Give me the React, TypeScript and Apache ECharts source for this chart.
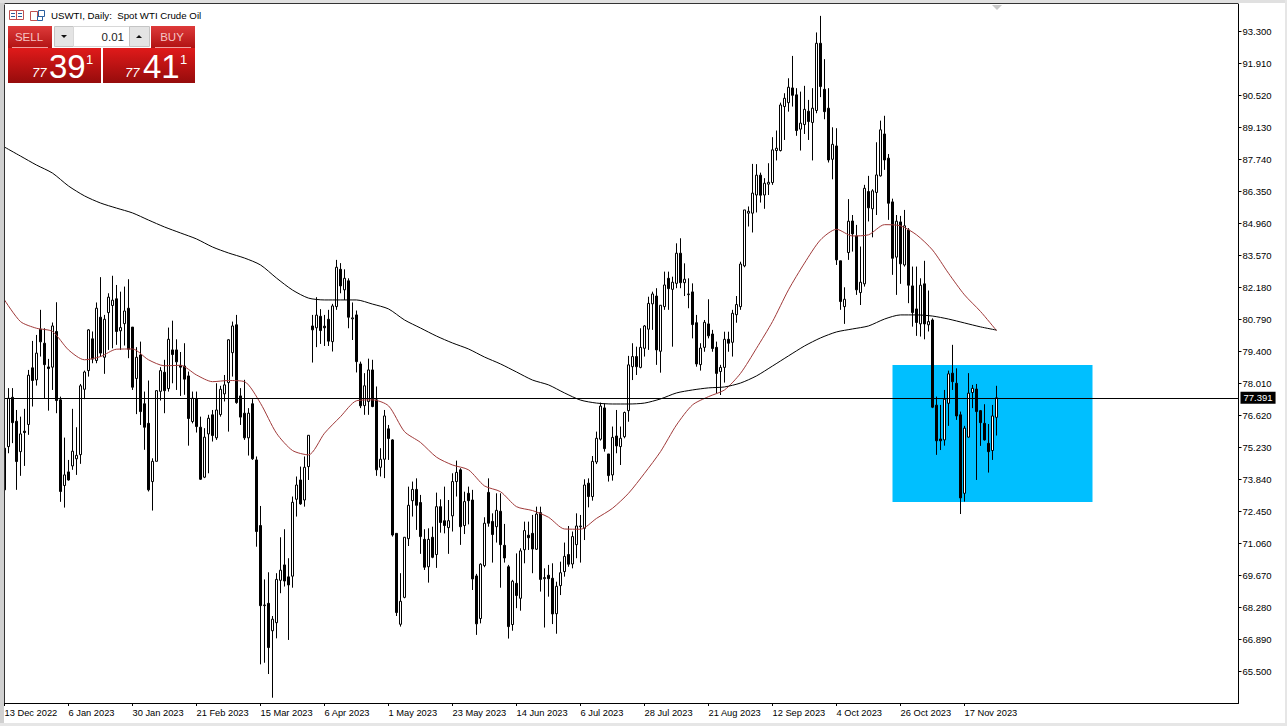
import React, { useEffect, useRef } from "react";
import * as echarts from "echarts";

const tickLabels = ["13 Dec 2022","6 Jan 2023","30 Jan 2023","21 Feb 2023","15 Mar 2023","6 Apr 2023","1 May 2023","23 May 2023","14 Jun 2023","6 Jul 2023","28 Jul 2023","21 Aug 2023","12 Sep 2023","4 Oct 2023","26 Oct 2023","17 Nov 2023"];
const priceTicks = [65.5,66.89,68.28,69.67,71.06,72.45,73.84,75.23,76.62,78.01,79.4,80.79,82.18,83.57,84.96,86.35,87.74,89.13,90.52,91.91,93.3];
const lastPrice = 77.391;
const zoneTop = 78.81;
const zoneBottom = 72.86;
const zoneStartBar = 222;
const zoneEndBar = 272;
const totalSlots = 309;

const opens = [
75.20,75.27,77.41,76.37,75.05,75.94,76.23,78.69,78.17,80.37,
79.76,78.73,78.72,80.27,77.30,73.58,74.17,74.43,74.74,74.92,
77.76,78.57,79.95,79.01,80.89,79.15,81.09,81.40,81.69,80.30,
80.61,81.28,80.46,78.23,79.25,77.13,76.28,73.75,74.63,77.67,
78.50,77.79,79.47,79.47,78.80,78.77,78.34,76.36,77.34,76.11,
73.94,75.82,76.65,75.65,76.66,77.56,78.05,79.35,80.56,77.47,
76.72,75.65,77.13,74.69,71.84,68.36,68.46,67.27,67.62,69.46,
70.13,69.61,69.64,72.98,73.82,72.95,74.40,80.51,80.43,80.93,
80.50,80.80,79.83,81.35,82.97,82.08,82.47,80.82,80.99,78.86,
77.05,77.23,78.60,77.30,74.37,74.72,76.04,75.56,71.50,67.55,
68.72,71.27,72.92,73.41,72.84,71.24,70.05,71.33,70.58,72.66,
72.05,71.75,72.26,73.75,74.26,71.84,73.24,72.95,69.65,67.80,
70.10,73.28,72.02,71.79,72.46,70.98,70.05,67.54,69.33,68.68,
70.79,71.42,71.50,70.81,72.40,69.53,69.68,69.55,68.01,69.23,
69.84,70.58,70.17,71.01,71.79,71.72,73.68,73.10,74.60,75.59,
76.95,74.95,74.04,75.73,75.27,75.70,76.83,78.74,79.18,78.71,
79.54,80.37,81.47,81.81,79.41,81.35,82.58,82.10,82.36,83.67,
82.39,81.87,81.99,80.65,78.83,79.58,80.60,80.16,79.58,78.53,
78.71,79.93,79.80,81.00,81.35,83.12,85.41,85.41,86.20,87.06,
86.20,86.67,86.74,88.13,88.13,90.04,90.21,90.85,90.55,89.06,
89.26,89.84,89.35,89.87,92.79,90.79,89.97,87.75,88.33,83.34,
81.35,83.70,85.07,84.42,81.96,82.34,86.35,85.60,86.31,87.03,
88.85,87.80,85.90,83.50,85.03,83.16,84.68,82.25,81.25,80.60,
82.34,80.56,80.77,77.07,75.60,75.56,77.15,78.46,78.02,76.65,
73.24,75.68,77.62,77.77,76.83,76.28,75.41,75.10,76.54];
const closes = [
73.39,77.37,76.31,74.62,75.82,75.88,78.37,78.14,79.33,79.82,
78.83,78.66,80.51,77.27,73.32,74.04,73.82,75.07,74.89,77.91,
78.51,80.34,79.07,81.28,79.33,80.80,81.76,81.63,80.27,80.44,
81.16,79.50,77.85,79.15,76.79,76.11,73.39,74.63,77.70,78.57,
77.70,79.93,79.27,78.95,78.72,78.20,76.49,77.37,76.14,73.85,
75.68,76.50,75.75,76.86,77.76,77.95,79.91,80.51,77.18,76.55,
75.65,76.72,74.74,71.58,68.36,68.39,66.54,67.77,69.50,69.90,
69.43,69.26,72.85,73.60,72.78,74.37,75.76,80.34,80.98,80.31,
80.43,79.85,81.38,83.06,82.25,82.58,80.89,80.86,78.96,77.04,
77.91,78.60,77.01,74.26,74.72,76.60,75.62,71.43,68.06,68.55,
71.33,72.72,73.41,72.72,71.36,70.03,71.24,70.46,72.66,71.97,
71.84,72.05,73.75,74.15,71.79,72.88,72.92,69.52,67.57,70.16,
71.94,71.94,71.45,72.50,71.01,70.43,67.45,69.42,68.80,70.74,
71.62,71.31,70.82,72.34,69.50,69.58,69.53,68.00,69.20,69.79,
70.50,70.16,71.36,71.82,71.82,73.60,73.10,74.63,75.63,77.03,
75.18,74.01,75.67,75.30,75.63,76.75,78.82,79.18,78.74,79.58,
80.51,81.49,81.90,79.47,81.41,82.29,82.13,82.41,83.67,82.39,
82.54,81.90,80.57,78.86,79.55,80.67,80.08,79.53,78.45,78.71,
79.93,79.76,81.06,81.44,83.20,85.55,85.49,86.28,87.06,86.19,
86.71,86.75,88.16,88.23,90.11,90.40,90.88,90.53,89.00,89.32,
89.92,89.39,89.97,92.79,90.91,89.82,87.72,88.40,83.38,81.57,
81.67,85.06,84.51,82.08,82.41,86.49,85.64,86.38,87.07,89.03,
87.72,85.84,83.45,85.06,83.21,84.86,82.28,81.09,80.66,82.28,
80.60,80.70,76.98,75.52,75.52,77.33,78.43,78.09,76.60,73.04,
76.07,77.59,77.80,76.79,76.31,75.56,75.05,76.60,77.39];
const lows = [
73.30,74.98,75.42,73.39,74.00,74.43,75.78,77.01,77.92,79.18,
77.37,76.83,77.73,76.72,72.87,72.62,73.79,74.26,74.04,74.52,
77.33,78.31,78.89,78.89,79.18,78.43,79.47,79.54,79.69,79.47,
79.66,79.11,77.73,76.68,76.21,75.13,73.32,72.49,74.63,77.27,
76.72,77.66,78.02,77.73,77.47,77.52,75.31,76.28,75.88,73.82,
73.90,74.11,75.49,75.56,76.57,77.23,75.92,78.31,77.13,76.21,
75.56,74.88,74.69,70.92,65.81,65.88,65.39,64.36,66.94,68.90,
69.19,66.87,69.14,72.23,72.74,72.66,73.82,78.92,79.59,79.73,
79.64,79.64,79.40,81.21,81.93,81.64,80.41,79.90,78.49,76.94,
76.65,76.65,76.98,74.00,73.97,73.90,74.69,71.36,67.91,67.45,
68.68,70.95,72.23,71.65,70.61,69.91,69.36,70.42,70.00,71.53,
71.50,70.61,71.58,73.10,71.00,71.47,71.89,69.04,67.09,67.59,
70.03,71.79,70.23,71.10,69.14,70.23,66.93,67.27,68.25,68.14,
70.20,70.78,69.77,70.78,68.97,67.41,68.75,67.56,67.14,68.82,
69.62,70.05,69.98,70.42,70.23,71.21,72.63,72.92,74.51,75.53,
75.05,73.75,73.79,74.98,74.47,75.63,76.35,78.16,78.38,78.67,
79.18,79.47,80.34,78.82,78.48,81.21,81.21,79.61,82.15,82.15,
81.81,81.28,79.97,78.74,78.57,79.39,79.97,79.39,77.58,77.51,
78.05,79.39,79.18,80.65,81.21,83.06,84.83,84.57,85.44,85.87,
85.60,86.20,86.64,87.70,88.09,88.59,89.82,90.04,88.77,88.13,
88.85,88.59,87.70,89.75,90.45,89.49,87.61,86.88,83.16,81.21,
80.60,83.38,83.74,81.86,81.42,82.22,85.05,84.36,85.33,87.00,
87.29,85.12,82.73,81.86,82.34,83.09,81.50,80.48,80.08,80.05,
79.93,80.27,76.94,74.91,75.12,75.31,76.17,77.73,76.43,72.34,
72.88,75.66,76.94,73.82,75.30,75.53,74.14,74.69,75.75];
const highs = [
75.40,77.81,77.81,76.86,76.57,76.91,78.60,79.86,80.12,81.21,
80.41,79.08,80.66,81.54,77.44,75.66,74.69,76.91,76.11,77.99,
78.57,80.37,80.27,81.53,82.63,80.99,81.93,82.69,82.29,82.00,
82.22,82.54,80.46,79.59,79.83,77.66,78.14,74.76,77.70,78.72,
79.04,80.44,80.74,79.93,79.38,79.76,78.53,77.66,77.66,76.57,
76.07,76.65,76.86,78.02,77.91,78.38,79.93,80.70,80.99,77.81,
78.17,76.94,77.33,74.84,72.69,69.50,69.81,67.91,69.77,71.33,
71.68,70.42,73.10,73.97,74.40,74.84,75.76,80.99,81.76,81.24,
80.99,81.21,81.47,83.38,83.24,82.97,82.58,81.53,81.18,78.96,
78.46,79.09,79.04,77.88,75.20,76.86,76.21,75.59,71.50,69.77,
71.33,73.53,73.75,73.89,73.17,71.68,71.72,71.79,73.27,72.98,
73.53,72.95,74.11,74.66,74.33,73.31,73.53,73.39,69.74,70.20,
72.20,73.89,72.37,73.24,73.24,71.91,70.13,69.48,70.63,70.85,
72.01,72.01,72.30,72.66,72.66,69.98,70.13,70.20,69.40,70.27,
71.10,71.82,71.58,72.37,72.30,73.85,73.89,74.86,75.92,77.18,
77.15,74.95,76.14,76.86,76.14,76.79,79.21,79.76,79.61,80.41,
80.55,81.78,82.00,82.15,81.42,82.87,82.87,82.65,84.10,84.32,
83.23,82.58,82.36,80.99,79.76,80.77,81.67,80.34,79.83,78.82,
80.26,80.26,81.21,81.81,83.30,85.55,85.70,87.55,87.54,87.17,
86.93,87.58,88.71,89.00,90.21,90.62,91.27,92.24,90.84,90.69,
90.94,90.33,90.84,93.26,93.98,92.10,90.84,89.14,89.10,83.34,
82.19,86.02,85.33,84.90,83.96,86.64,87.03,86.45,88.49,89.43,
89.64,87.98,86.04,85.33,85.29,85.55,84.76,83.09,83.09,82.58,
83.34,82.05,80.84,77.44,77.08,77.73,78.57,79.69,78.67,76.79,
76.17,78.46,77.95,77.99,76.86,77.11,76.25,77.08,77.91];

const maStep = 4;
const ma50 = [
81.64,80.70,80.41,80.27,79.47,79.04,79.18,79.50,79.51,79.04,
78.78,78.80,78.38,78.09,78.14,78.09,77.15,75.85,75.10,74.91,
75.85,76.57,77.26,77.30,77.04,75.92,75.45,74.81,74.47,74.26,
73.56,73.31,72.66,72.49,72.20,71.69,71.68,72.15,72.59,73.24,
74.11,75.05,76.21,77.08,77.44,77.73,78.45,79.54,80.70,82.08,
83.24,84.25,84.71,84.42,84.47,84.91,84.86,84.47,83.81,82.80,
81.86,81.14,80.31];
const ma200 = [
88.28,87.89,87.50,87.15,86.59,86.16,85.85,85.63,85.42,85.11,
84.81,84.55,84.29,83.94,83.68,83.46,83.16,82.59,82.07,81.72,
81.64,81.64,81.64,81.46,81.25,80.77,80.42,80.07,79.77,79.51,
79.16,78.86,78.51,78.16,77.95,77.60,77.29,77.16,77.12,77.12,
77.16,77.34,77.60,77.73,77.82,77.86,78.03,78.34,78.77,79.21,
79.64,79.99,80.25,80.38,80.51,80.81,80.99,80.99,80.94,80.81,
80.64,80.47,80.33];

const FONT = "Liberation Sans";
const red = (a: string, b: string) => ({ type: "linear", x: 0, y: 0, x2: 0, y2: 1, colorStops: [{ offset: 0, color: a }, { offset: 1, color: b }] });
const txt = (x: number, y: number, text: string, size: number, fill: string, extra: any = {}) => ({
  type: "text", x, y, z: 60, silent: true,
  style: { text, fontSize: size, fill, fontFamily: FONT, textVerticalAlign: "middle", ...extra },
});
const box = (x: number, y: number, w: number, h: number, style: any, z = 50) => ({ type: "rect", z, silent: true, shape: { x, y, width: w, height: h }, style });

export default function App() {
  const ref = useRef<HTMLDivElement>(null);
  useEffect(() => {
    document.body.style.margin = "0";
    const chart = echarts.init(ref.current!, undefined, { renderer: "svg" });
    const categories = Array.from({ length: totalSlots }, (_, i) => (i % 16 === 0 ? tickLabels[i / 16] ?? "" : ""));
    const showDate = (i: number) => i % 16 === 0 && i / 16 < tickLabels.length;
    const candles = opens.map((o, i) => [o, closes[i], lows[i], highs[i]]);
    chart.setOption({
      animation: false,
      backgroundColor: "#ffffff",
      grid: { left: 2.5, top: 4, width: 1236, height: 699, show: false },
      xAxis: {
        type: "category", data: categories, boundaryGap: true,
        axisLine: { onZero: false, lineStyle: { color: "#000", width: 1 } },
        axisTick: { show: true, alignWithLabel: true, length: 3, interval: (i: number) => showDate(i), lineStyle: { color: "#000" } },
        axisLabel: { interval: (i: number) => showDate(i), align: "left", margin: 5, fontSize: 9.3, color: "#000", fontFamily: FONT, hideOverlap: false },
        splitLine: { show: false },
      },
      yAxis: {
        type: "value", position: "right", min: 64.131, max: 94.496, scale: true,
        axisLine: { show: true, lineStyle: { color: "#000", width: 1 } },
        axisTick: { show: true, length: 3, customValues: priceTicks, lineStyle: { color: "#000" } },
        axisLabel: { customValues: priceTicks, margin: 4, fontSize: 9.5, color: "#000", fontFamily: FONT, formatter: (v: number) => v.toFixed(3) },
        splitLine: { show: false },
      },
      series: [
        {
          name: "zone", type: "line", z: 1, data: [], silent: true,
          markArea: {
            silent: true,
            itemStyle: { color: "#00BFFF", opacity: 1 },
            data: [[{ xAxis: zoneStartBar, yAxis: zoneTop }, { xAxis: zoneEndBar, yAxis: zoneBottom }]],
          },
        },
        {
          name: "USWTI", type: "candlestick", z: 3, barWidth: 2, silent: true, data: candles,
          itemStyle: { color: "#ffffff", color0: "#000000", borderColor: "#000000", borderColor0: "#000000", borderWidth: 1 },
        },
        {
          name: "MA50", type: "line", z: 4, showSymbol: false, silent: true, smooth: 0.25,
          data: ma50.map((v, i) => [i * maStep, v]),
          lineStyle: { color: "#A03A3A", width: 1 },
        },
        {
          name: "MA200", type: "line", z: 4, showSymbol: false, silent: true, smooth: 0.25,
          data: ma200.map((v, i) => [i * maStep, v]),
          lineStyle: { color: "#000000", width: 1 },
          markLine: {
            silent: true, symbol: "none", animation: false,
            lineStyle: { color: "#000", width: 1, type: "solid" },
            label: { show: true, position: "end", formatter: lastPrice.toFixed(3), color: "#fff", backgroundColor: "#000", padding: [1, 3, 1, 3], fontSize: 9.5, fontFamily: FONT, distance: 2 },
            data: [{ yAxis: lastPrice }],
          },
        },
      ],
      graphic: { elements: [
        box(0, 0, 4, 726, { fill: "#d0d0d0" }),
        box(0, 0, 1287, 3, { fill: "#e0e0e0" }),
        box(0, 723, 1287, 3, { fill: "#e6e6e6" }),
        box(1285, 0, 2, 726, { fill: "#e6e6e6" }),
        { type: "line", z: 51, silent: true, shape: { x1: 4.5, y1: 4.5, x2: 4.5, y2: 703 }, style: { stroke: "#333", lineWidth: 1 } },
        { type: "line", z: 51, silent: true, shape: { x1: 4.5, y1: 3.5, x2: 1238, y2: 3.5 }, style: { stroke: "#333", lineWidth: 1 } },
        { type: "polygon", z: 51, silent: true, shape: { points: [[992, 5], [1002, 5], [997, 10]] }, style: { fill: "#c8c8c8" } },
        box(9.5, 10.5, 14, 9, { fill: "#fff", stroke: "#c05050", lineWidth: 1 }),
        { type: "line", z: 51, silent: true, shape: { x1: 16.5, y1: 11, x2: 16.5, y2: 19 }, style: { stroke: "#c05050" } },
        { type: "line", z: 51, silent: true, shape: { x1: 11, y1: 13.5, x2: 15, y2: 13.5 }, style: { stroke: "#2a5f9e" } },
        { type: "line", z: 51, silent: true, shape: { x1: 18, y1: 13.5, x2: 22, y2: 13.5 }, style: { stroke: "#2a5f9e" } },
        { type: "line", z: 51, silent: true, shape: { x1: 11, y1: 16.5, x2: 15, y2: 16.5 }, style: { stroke: "#2a5f9e" } },
        { type: "line", z: 51, silent: true, shape: { x1: 18, y1: 16.5, x2: 22, y2: 16.5 }, style: { stroke: "#2a5f9e" } },
        box(30.5, 11.5, 7, 9, { fill: "#fff", stroke: "#c05050", lineWidth: 1 }),
        box(38.5, 10.5, 6, 6, { fill: "#fff", stroke: "#2a5f9e", lineWidth: 1 }),
        box(37.5, 16.5, 5, 4, { fill: "#fff", stroke: "#2a5f9e", lineWidth: 1 }),
        txt(51, 15.5, "USWTI, Daily:  Spot WTI Crude Oil", 9.7, "#000"),
        box(8, 26, 44, 23, { fill: red("#de3a3a", "#b01212") }),
        box(151, 26, 44, 22, { fill: red("#de3a3a", "#b01212") }),
        { type: "line", z: 52, silent: true, shape: { x1: 12, y1: 47.5, x2: 48, y2: 47.5 }, style: { stroke: "#f0a0a0" } },
        { type: "line", z: 52, silent: true, shape: { x1: 155, y1: 47.5, x2: 191, y2: 47.5 }, style: { stroke: "#f0a0a0" } },
        box(8, 48, 93, 35, { fill: red("#e01a1a", "#960c0c") }),
        box(103, 48, 92, 35, { fill: red("#e01a1a", "#960c0c") }),
        box(54.5, 26.5, 19, 20, { fill: "#e4e4e4", stroke: "#c4c4c4", lineWidth: 1 }),
        box(73.5, 26.5, 56, 20, { fill: "#ffffff", stroke: "#d8d8d8", lineWidth: 1 }),
        box(129.5, 26.5, 20, 20, { fill: "#e4e4e4", stroke: "#c4c4c4", lineWidth: 1 }),
        { type: "polygon", z: 52, silent: true, shape: { points: [[61, 35], [67, 35], [64, 38]] }, style: { fill: "#111" } },
        { type: "polygon", z: 52, silent: true, shape: { points: [[136, 38], [142, 38], [139, 35]] }, style: { fill: "#111" } },
        txt(124, 36.5, "0.01", 11.5, "#222", { textAlign: "right" }),
        txt(29, 37, "SELL", 11.5, "#f6c4c4", { textAlign: "center" }),
        txt(172, 37, "BUY", 11.5, "#f6c4c4", { textAlign: "center" }),
        txt(32, 72.5, "77", 13, "#fff", { fontStyle: "italic" }),
        txt(49, 66.5, "39", 33, "#fff"),
        txt(86, 59.5, "1", 13, "#fff"),
        txt(125, 72.5, "77", 13, "#fff", { fontStyle: "italic" }),
        txt(143, 66.5, "41", 33, "#fff"),
        txt(180, 59.5, "1", 13, "#fff"),
      ] },
    });
    return () => chart.dispose();
  }, []);
  return <div ref={ref} style={{ position: "absolute", left: 0, top: 0, width: 1287, height: 726 }} />;
}
